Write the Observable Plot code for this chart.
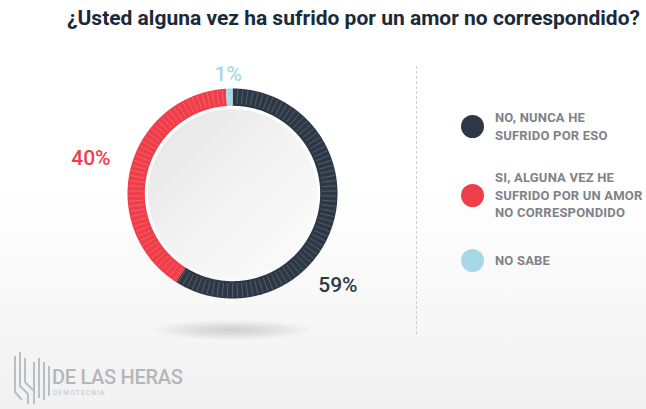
<!DOCTYPE html>
<html>
<head>
<meta charset="utf-8">
<script src="https://cdn.jsdelivr.net/npm/d3@7"></script>
<script src="https://cdn.jsdelivr.net/npm/@observablehq/plot@0.6"></script>
<style>
  html, body { margin:0; padding:0; }
  body { width:646px; height:409px; position:relative; overflow:hidden;
         background: linear-gradient(#ffffff 0%, #ffffff 45%, #f1f1f1 100%);
         font-family: Roboto, "Noto Sans", sans-serif; }
  #title { height:40px; line-height:36px; text-align:right; padding-right:6px;
           font-size:21px; font-weight:700; color:#1b2a3a; letter-spacing:0px; white-space:nowrap; }
  #chart { position:absolute; left:0; top:40px; }
  #shadow { position:absolute; left:152px; top:320px; width:160px; height:20px;
            background: radial-gradient(ellipse at center, rgba(0,0,0,0.16) 0%, rgba(0,0,0,0.07) 45%, rgba(0,0,0,0) 72%); }
  #sep { position:absolute; left:416px; top:66px; height:268px; border-left:1px dashed #cfcfcf; }
  .item { position:absolute; left:461px; display:flex; align-items:center; }
  .dot { width:23px; height:23px; border-radius:50%; margin-right:11px; flex:none; }
  .txt { font-size:13px; font-weight:700; color:#7d8388; line-height:17.5px; letter-spacing:0.2px; text-transform:uppercase; white-space:nowrap; }
  #logo { position:absolute; left:12px; top:348px; }
  #logoText { position:absolute; left:52px; top:365px; font-size:20px; font-weight:500; color:#b4b7ba; letter-spacing:-0.3px; }
  #logoSub { position:absolute; left:53px; top:389px; font-size:6.5px; color:#c0c3c5; letter-spacing:1.2px; }
</style>
</head>
<body>
<div id="title">¿Usted alguna vez ha sufrido por un amor no correspondido?</div>
<div id="shadow"></div>
<div id="chart"></div>
<div id="sep"></div>
<div id="legend"></div>
<svg id="logo" width="40" height="58" viewBox="0 0 40 58">
  <g stroke="#bcbfc2" stroke-width="2" fill="none">
    <path d="M3 8 V44 L10 52"/>
    <path d="M8 4 V38 L16 46 V56"/>
    <path d="M13 10 V34 L22 43"/>
    <path d="M22 14 V56"/>
    <path d="M27 10 V50"/>
    <path d="M32 14 V52"/>
    <path d="M37 18 V48"/>
  </g>
</svg>
<div id="logoText">DE LAS HERAS</div>
<div id="logoSub">DEMOTECNIA</div>
<script>
// ---- data ----
const categories = ["NO, NUNCA HE SUFRIDO POR ESO", "SI, ALGUNA VEZ HE SUFRIDO POR UN AMOR NO CORRESPONDIDO", "NO SABE"];
const legendLines = [["NO, NUNCA HE", "SUFRIDO POR ESO"], ["SI, ALGUNA VEZ HE", "SUFRIDO POR UN AMOR", "NO CORRESPONDIDO"], ["NO SABE"]];
const values = [59, 40, 1];
const valueLabels = ["59%", "40%", "1%"];
const colors = ["#2c3845", "#f03d4a", "#a7d8e7"];

// ---- layout ----
const W = 646, H = 369, R = 105, CX = 232, CY = 153;
const rOuter = 1.0, rInner = 0.835;
const total = d3.sum(values);
const toRad = a => a * Math.PI / 180;
const pol = (r, deg) => ({x: r * Math.sin(toRad(deg)), y: r * Math.cos(toRad(deg))});

// slices
let acc = 0;
const slices = categories.map((c, i) => {
  const a0 = acc / total * 360; acc += values[i]; const a1 = acc / total * 360;
  return {cat: c, a0, a1, label: valueLabels[i], color: colors[i]};
});
const poly = [];
for (const s of slices) {
  const n = Math.max(2, Math.ceil((s.a1 - s.a0) / 0.5));
  const outer = d3.range(n + 1).map(k => s.a0 + (s.a1 - s.a0) * k / n);
  for (const a of outer) poly.push({cat: s.cat, ...pol(rOuter, a)});
  for (const a of outer.slice().reverse()) poly.push({cat: s.cat, ...pol(rInner, a)});
}
// thin separators
const nTicks = 126;
const ticks = d3.range(nTicks).map(k => {
  const a = k * 360 / nTicks;
  const p1 = pol(rInner + 0.02, a), p2 = pol(rOuter - 0.01, a);
  return {x1: p1.x, y1: p1.y, x2: p2.x, y2: p2.y};
});
// labels
const labelPlace = [{r: 1.33, a: 131}, {r: 1.39, a: 284}, {r: 1.14, a: -2}];
const labelData = slices.map((s, i) => ({...pol(labelPlace[i].r, labelPlace[i].a), label: s.label, color: s.color}));

const plot = Plot.plot({
  width: W, height: H, margin: 0,
  style: {background: "transparent", overflow: "visible"},
  x: {domain: [-CX / R, (W - CX) / R], range: [0, W], axis: null},
  y: {domain: [-(H - CY) / R, CY / R], range: [H, 0], axis: null},
  color: {domain: categories, range: colors},
  marks: [
    Plot.dot([{x: 0, y: 0}], {x: "x", y: "y", r: 84.5, fill: "url(#innerGrad)", stroke: "#ffffff", strokeWidth: 0}),
    Plot.line(poly, {x: "x", y: "y", z: "cat", fill: "cat", stroke: "none"}),
    Plot.link(ticks, {x1: "x1", y1: "y1", x2: "x2", y2: "y2", stroke: "#ffffff", strokeOpacity: 0.28, strokeWidth: 0.7}),
    Plot.text(labelData, {x: "x", y: "y", text: "label", fill: d => d.color, fontSize: 21, fontWeight: 500, fontFamily: "Roboto"})
  ]
});
const defs = document.createElementNS("http://www.w3.org/2000/svg", "defs");
defs.innerHTML = `<linearGradient id="innerGrad" x1="0" y1="0" x2="1" y2="1">
  <stop offset="0" stop-color="#e4e4e4"/><stop offset="0.55" stop-color="#f4f4f4"/><stop offset="1" stop-color="#fcfcfc"/></linearGradient>`;
plot.insertBefore(defs, plot.firstChild);
document.getElementById("chart").appendChild(plot);

// legend
const legendTops = [109, 169, 249];
const legend = document.getElementById("legend");
categories.forEach((c, i) => {
  const item = document.createElement("div");
  item.className = "item";
  item.style.top = legendTops[i] + "px";
  item.innerHTML = `<div class="dot" style="background:${colors[i]}"></div><div class="txt">${legendLines[i].join("<br>")}</div>`;
  legend.appendChild(item);
});
</script>
</body>
</html>
